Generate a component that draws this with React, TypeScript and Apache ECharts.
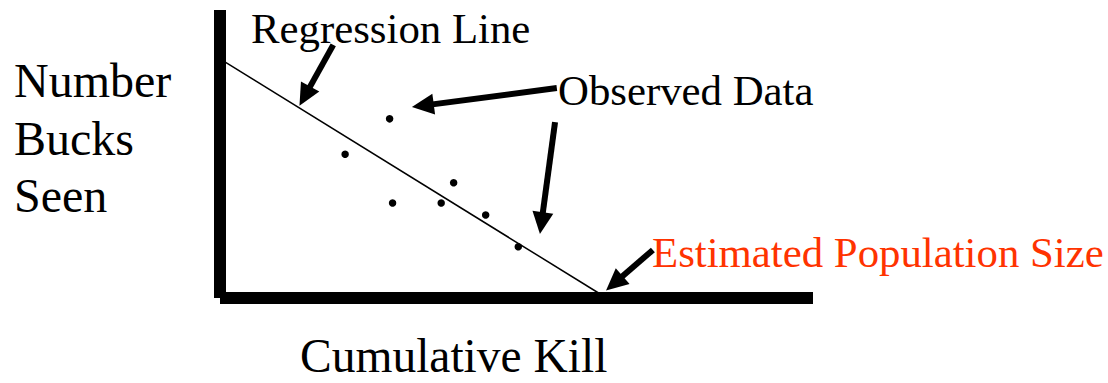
import React, { useEffect, useRef } from "react";
import * as echarts from "echarts";

// Observed data: [cumulative kill, number of bucks seen] (arbitrary units)
const observedKill = [21.1, 28.6, 29.1, 37.3, 39.4, 44.8, 50.3];
const observedSeen = [49.9, 62.2, 33.0, 33.0, 40.0, 28.8, 17.8];

// Regression line end points (y-intercept and x-intercept)
const regressionKill = [0, 65.2];
const regressionSeen = [83.0, 0];

// Annotation arrows: [tailKill, tailSeen, headKill, headSeen]
const arrowRegression = [19.1, 87.9, 14.3, 70.1];
const arrowObserved1 = [56.8, 72.9, 34.2, 66.8];
const arrowObserved2 = [56.5, 61.1, 54.2, 26.0];
const arrowEstimate = [73.0, 16.7, 66.5, 5.1];

const yLabelLines = ["Number", "Bucks", "Seen"];
const xLabel = "Cumulative Kill";
const regressionLabel = "Regression Line";
const observedLabel = "Observed Data";
const estimateLabel = "Estimated Population Size";

const FONT = "'Liberation Serif', 'Times New Roman', serif";

export default function App() {
  const ref = useRef<HTMLDivElement>(null);

  useEffect(() => {
    document.body.style.margin = "0";
    if (!ref.current) return;
    const chart = echarts.init(ref.current, null, { renderer: "svg" });

    const arrows = [arrowRegression, arrowObserved1, arrowObserved2, arrowEstimate].map((a) => [
      { coord: [a[0], a[1]], symbol: "none" },
      { coord: [a[2], a[3]], symbol: "triangle" },
    ]);

    const axisCommon = {
      type: "value" as const,
      min: 0,
      max: 100,
      axisLine: { show: true, lineStyle: { color: "#000", width: 12, cap: "butt" } },
      axisTick: { show: false },
      axisLabel: { show: false },
      splitLine: { show: false },
    };

    const label = (text: string, x: number, y: number, size: number, fill = "#000") => ({
      type: "text",
      x,
      y,
      style: {
        text,
        font: `${size}px ${FONT}`,
        fill,
        align: "left",
        verticalAlign: "middle",
        lineHeight: 38,
      },
    });

    chart.setOption({
      animation: false,
      backgroundColor: "#fff",
      grid: { left: 220, top: 10, width: 593, height: 288 },
      xAxis: { ...axisCommon },
      yAxis: { ...axisCommon },
      series: [
        {
          type: "line",
          data: regressionKill.map((k, i) => [k, regressionSeen[i]]),
          showSymbol: false,
          lineStyle: { color: "#000", width: 1.5 },
          z: 3,
          silent: true,
        },
        {
          type: "scatter",
          data: observedKill.map((k, i) => [k, observedSeen[i]]),
          symbol: "circle",
          symbolSize: 7.5,
          itemStyle: { color: "#000", opacity: 1 },
          z: 4,
        },
        {
          type: "line",
          data: [],
          z: 5,
          markLine: {
            silent: true,
            symbol: ["none", "triangle"],
            symbolSize: [21, 22],
            label: { show: false },
            lineStyle: { color: "#000", width: 6, type: "solid", cap: "butt" },
            itemStyle: { color: "#000" },
            emphasis: { disabled: true },
            data: arrows,
          },
        },
      ],
      graphic: [
        ...yLabelLines.map((t, i) => label(t, 14, 80.7 + i * 57.5, 48)),
        label(xLabel, 300, 356.3, 47.5),
        label(regressionLabel, 251, 28.2, 42.8),
        label(observedLabel, 558, 90.7, 42.8),
        label(estimateLabel, 652, 252.2, 42.8, "#FF3300"),
      ],
    });

    return () => chart.dispose();
  }, []);

  return <div ref={ref} style={{ width: 1108, height: 383 }} />;
}
